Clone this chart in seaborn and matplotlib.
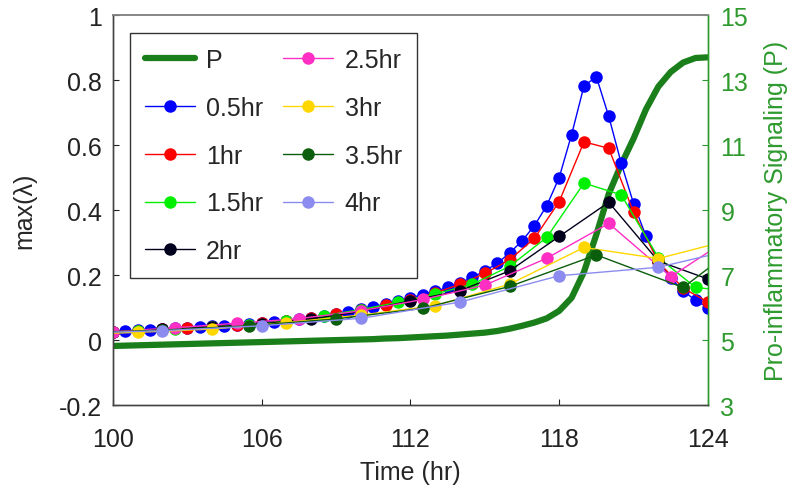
import numpy as np
import pandas as pd
import matplotlib
matplotlib.use("Agg")
import matplotlib.pyplot as plt
from matplotlib.lines import Line2D
import seaborn as sns

# Pro-inflammatory signal P (right axis), read every 0.5 hr
p_time = [100, 100.5, 101, 101.5, 102, 102.5, 103, 103.5, 104, 104.5, 105, 105.5,
          106, 106.5, 107, 107.5, 108, 108.5, 109, 109.5, 110, 110.5, 111, 111.5,
          112, 112.5, 113, 113.5, 114, 114.5, 115, 115.5, 116, 116.5, 117, 117.5,
          118, 118.5, 119, 119.5, 120, 120.5, 121, 121.5, 122, 122.5, 123, 123.5, 124]
p_value = [4.82, 4.83, 4.84, 4.85, 4.86, 4.87, 4.88, 4.89, 4.90, 4.91, 4.92, 4.93,
           4.94, 4.95, 4.96, 4.97, 4.98, 4.99, 5.00, 5.01, 5.02, 5.03, 5.05, 5.06,
           5.08, 5.10, 5.12, 5.14, 5.17, 5.20, 5.23, 5.28, 5.35, 5.44, 5.54, 5.67,
           5.90, 6.30, 7.10, 8.25, 9.50, 10.40, 11.20, 12.10, 12.80, 13.25, 13.54, 13.68, 13.70]

# max(lambda) for each sampling interval (points outside 100-124 are clipped)
t_05 = [99.5, 100, 100.5, 101, 101.5, 102, 102.5, 103, 103.5, 104, 104.5, 105, 105.5,
        106, 106.5, 107, 107.5, 108, 108.5, 109, 109.5, 110, 110.5, 111, 111.5,
        112, 112.5, 113, 113.5, 114, 114.5, 115, 115.5, 116, 116.5, 117, 117.5,
        118, 118.5, 119, 119.5, 120, 120.5, 121, 121.5, 122, 122.5, 123, 123.5, 124]
v_05 = [0.024, 0.026, 0.028, 0.030, 0.032, 0.034, 0.036, 0.038, 0.040, 0.042, 0.044, 0.047, 0.050,
        0.053, 0.056, 0.060, 0.064, 0.069, 0.075, 0.081, 0.088, 0.095, 0.103, 0.111, 0.120,
        0.130, 0.140, 0.150, 0.162, 0.176, 0.193, 0.213, 0.236, 0.268, 0.305, 0.352, 0.414,
        0.500, 0.632, 0.782, 0.810, 0.688, 0.545, 0.420, 0.320, 0.245, 0.190, 0.152, 0.122, 0.100]

t_1 = [99, 100, 101, 102, 103, 104, 105, 106, 107, 108, 109, 110, 111, 112,
       113, 114, 115, 116, 117, 118, 119, 120, 121, 122, 123, 124]
v_1 = [0.022, 0.025, 0.029, 0.033, 0.037, 0.041, 0.046, 0.052, 0.059, 0.068, 0.080, 0.093, 0.107, 0.124,
       0.145, 0.172, 0.205, 0.247, 0.313, 0.426, 0.610, 0.590, 0.393, 0.240, 0.160, 0.117]

t_15 = [99.5, 101, 102.5, 104, 105.5, 107, 108.5, 110, 111.5, 113, 114.5, 116, 117.5,
        119, 120.5, 122, 123.5, 125]
v_15 = [0.022, 0.028, 0.034, 0.040, 0.048, 0.058, 0.075, 0.094, 0.116, 0.142, 0.172, 0.227, 0.316,
        0.483, 0.447, 0.254, 0.162, 0.150]

t_2 = [98, 100, 102, 104, 106, 108, 110, 112, 114, 116, 118, 120, 122, 124]
v_2 = [0.020, 0.026, 0.033, 0.040, 0.050, 0.065, 0.088, 0.121, 0.152, 0.213, 0.319, 0.424, 0.243, 0.188]

t_25 = [100, 102.5, 105, 107.5, 110, 112.5, 115, 117.5, 120, 122.5, 125]
v_25 = [0.026, 0.038, 0.052, 0.066, 0.090, 0.125, 0.169, 0.252, 0.359, 0.195, 0.320]

t_3 = [98, 101, 104, 107, 110, 113, 116, 119, 122, 125]
v_3 = [0.016, 0.024, 0.034, 0.054, 0.077, 0.106, 0.172, 0.285, 0.251, 0.310]

t_35 = [98.5, 102, 105.5, 109, 112.5, 116, 119.5, 123, 126.5]
v_35 = [0.022, 0.031, 0.044, 0.065, 0.098, 0.165, 0.262, 0.162, 0.365]

t_4 = [98, 102, 106, 110, 114, 118, 122, 126]
v_4 = [0.020, 0.029, 0.044, 0.067, 0.117, 0.198, 0.224, 0.296]

labels = ["0.5hr", "1hr", "1.5hr", "2hr", "2.5hr", "3hr", "3.5hr", "4hr"]
times = [t_05, t_1, t_15, t_2, t_25, t_3, t_35, t_4]
values = [v_05, v_1, v_15, v_2, v_25, v_3, v_35, v_4]
colors = ["#0000ff", "#ff0000", "#00f000", "#00001c", "#ff2fc4", "#ffd700", "#0b5e0b", "#8c8cf0"]

df = pd.concat([pd.DataFrame({"Time": t, "lam": v, "Interval": lab})
                for t, v, lab in zip(times, values, labels)], ignore_index=True)
df_p = pd.DataFrame({"Time": p_time, "P": p_value})

sns.set_theme(style="white")
plt.rcParams["font.family"] = ["Liberation Sans", "DejaVu Sans"]
plt.rcParams["font.size"] = 18

p_color = "#1a7f1a"
axis_green = "#2e9a2e"

fig = plt.figure(figsize=(7.95, 5.02), dpi=100)
ax = fig.add_axes([0.142, 0.191, 0.7485, 0.777])
ax2 = ax.twinx()

# P curve on the right axis, drawn underneath
sns.lineplot(data=df_p, x="Time", y="P", ax=ax2, color=p_color, linewidth=4.5,
             estimator=None, legend=False)

# max(lambda) curves on the left axis
sns.lineplot(data=df, x="Time", y="lam", hue="Interval", hue_order=labels,
             palette=dict(zip(labels, colors)), ax=ax, marker="o", markersize=9,
             markeredgewidth=0, linewidth=1.0, estimator=None, sort=True, legend=False)

ax.set_zorder(ax2.get_zorder() + 1)
ax.patch.set_visible(False)

ax.set_xlim(100, 124)
ax.set_ylim(-0.2, 1)
ax2.set_ylim(3, 15)
ax.set_xticks([100, 106, 112, 118, 124])
ax.set_yticks([-0.2, 0, 0.2, 0.4, 0.6, 0.8, 1])
ax.set_yticklabels(["-0.2", "0", "0.2", "0.4", "0.6", "0.8", "1"])
ax2.set_yticks([3, 5, 7, 9, 11, 13, 15])

ax.set_xlabel("Time (hr)", fontsize=18, labelpad=6)
ax.set_ylabel("max(λ)", fontsize=18, labelpad=16)
ax2.set_ylabel("Pro-inflammatory Signaling (P)", fontsize=18, color=axis_green, labelpad=11)

ax.tick_params(axis="x", direction="in", length=4, width=0.8, labelsize=18,
               colors="#222222", pad=16, bottom=True)
ax.tick_params(axis="y", direction="in", length=4, width=0.8, labelsize=18,
               colors="#222222", pad=8, left=True, right=False)
ax2.tick_params(axis="y", direction="in", length=4, width=0.8, labelsize=18,
                colors=axis_green, pad=9, right=True)
for a in (ax, ax2):
    for side in ("left", "bottom"):
        a.spines[side].set_color("#444444")
        a.spines[side].set_linewidth(1.0)
    a.spines["top"].set_color("#888888")
    a.spines["right"].set_color(axis_green)
    a.spines["right"].set_linewidth(1.0)

# legend: P first, then the sampling intervals
handles = [Line2D([], [], color=p_color, linewidth=4.5)]
for c in colors:
    handles.append(Line2D([], [], color=c, linewidth=1.0, marker="o", markersize=9,
                          markeredgewidth=0))
leg = ax.legend(handles, ["P"] + labels, ncol=2, loc="upper left",
                bbox_to_anchor=(0.0286, 0.954), borderaxespad=0, fontsize=18,
                frameon=True, fancybox=False, edgecolor="#333333", framealpha=1,
                labelspacing=0.95, handlelength=2.0, handletextpad=0.45,
                columnspacing=0.8, borderpad=0.6)
leg.get_frame().set_linewidth(1.0)

fig.savefig("out.png", dpi=100)
